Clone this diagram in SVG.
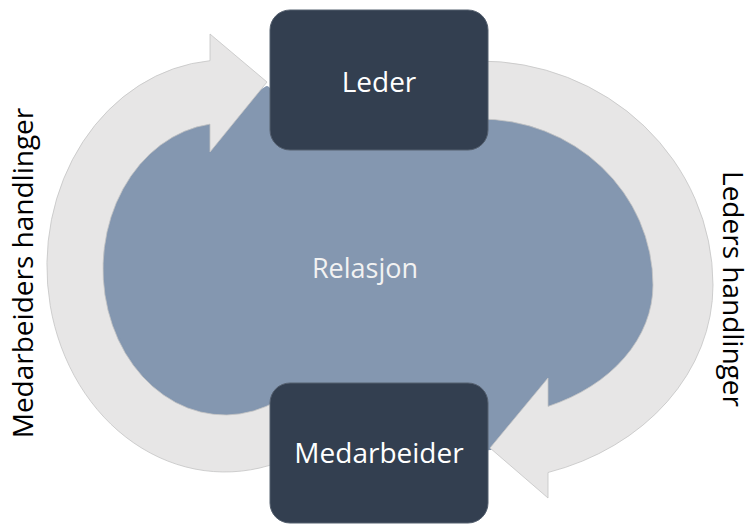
<svg xmlns="http://www.w3.org/2000/svg" width="749" height="524" viewBox="0 0 749 524">
  <style>
    .arc { fill: #e7e6e6; stroke: #c4c4c4; stroke-width: 0.8; }
    .area { fill: #8497b0; stroke: #8497b0; stroke-width: 4; stroke-linejoin: round; }
    .box { fill: #333f50; stroke: #55606f; stroke-width: 1; }
    .box-label { font-family: "Open Sans", "Liberation Sans", sans-serif; font-size: 28px; fill: #ffffff; text-anchor: middle; }
    .side-label { font-family: "Open Sans", "Liberation Sans", sans-serif; font-size: 28px; fill: #000000; text-anchor: middle; }
    .center-label { font-family: "Open Sans", "Liberation Sans", sans-serif; font-size: 27px; fill: #f2f2f2; text-anchor: middle; }
  </style>
  <rect width="749" height="524" fill="#ffffff"/>

  <!-- relationship area, bounded by the inner edges of the two arcs -->
  <g id="relasjon">
    <path class="area" d="M 210 124.1 A 122 146 0 1 0 278 400.5
      L 300 440 L 470 450 L 490 448 L 548 406.4
      A 173 132 0 0 0 653 285 A 173 166 0 0 0 478 119
      L 470 100 L 280 100 L 267 88 Z"/>
    <text class="center-label" x="365" y="278">Relasjon</text>
  </g>

  <!-- curved arrows between the two roles -->
  <g id="connectors">
    <!-- left arc: Medarbeider up to Leder -->
    <path class="arc" d="M 278 462.6 A 178 206 0 1 1 210 60.7
      L 210 34 L 267 82 L 210 152 L 210 124.1
      A 122 146 0 1 0 278 400.5 Z"/>
    <!-- right arc: Leder down to Medarbeider -->
    <path class="arc" d="M 478 61 A 233 224 0 0 1 713 285 A 233 196 0 0 1 548 472.5
      L 548 498 L 490 448 L 548 378 L 548 406.4
      A 173 132 0 0 0 653 285 A 173 166 0 0 0 478 119 Z"/>
  </g>

  <g id="leder">
    <rect class="box" x="270" y="10" width="218" height="140" rx="20" ry="20"/>
    <text class="box-label" x="379" y="92">Leder</text>
  </g>

  <g id="medarbeider">
    <rect class="box" x="270" y="383" width="218" height="140" rx="20" ry="20"/>
    <text class="box-label" x="379" y="463">Medarbeider</text>
  </g>

  <g id="medarbeiders-handlinger">
    <text class="side-label" transform="translate(33,273) rotate(-90)">Medarbeiders handlinger</text>
  </g>

  <g id="leders-handlinger">
    <text class="side-label" transform="translate(723,289) rotate(90)">Leders handlinger</text>
  </g>
</svg>
